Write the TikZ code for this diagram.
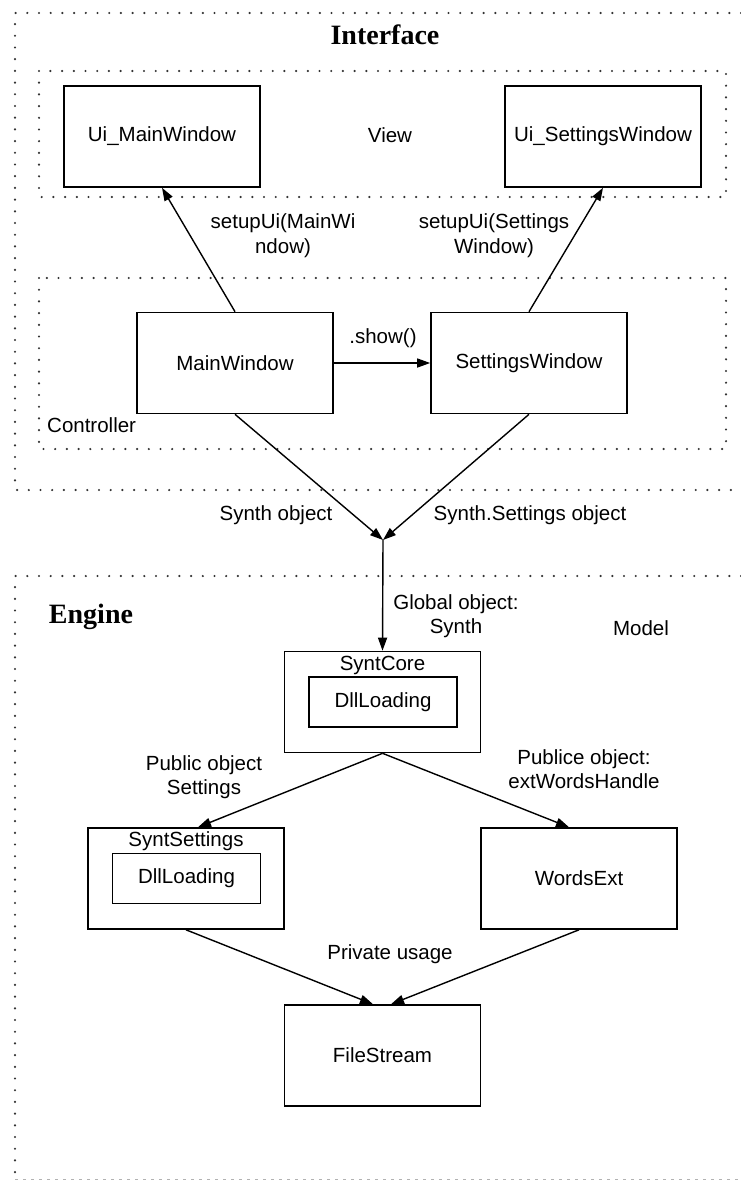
\documentclass[tikz,border=0pt]{standalone}
\usepackage{fontspec}
\setmainfont{Liberation Sans}
\newfontfamily\titlefont{Liberation Serif}
\usetikzlibrary{arrows.meta,calc}
\begin{document}
\begin{tikzpicture}[x=1pt,y=-1pt,
  font=\fontsize{20.5}{24.5}\selectfont,
  box/.style={draw, line width=1.6pt, minimum width=196pt, minimum height=101pt, inner sep=0pt},
  inbox/.style={draw, line width=1.6pt, minimum width=148pt, minimum height=50pt, inner sep=0pt},
  dotline/.style={line width=2.4pt, black!80, line cap=round, dash pattern=on 0pt off 11.7pt},
  conn/.style={line width=1.4pt, -{Triangle[length=13pt,width=9pt]}},
  lbl/.style={inner sep=0pt, align=center},
  ttl/.style={inner sep=0pt, font=\titlefont\bfseries\fontsize{28}{32}\selectfont}
]
\useasboundingbox (0,0) rectangle (741,1180);

% regions
\draw[dotline] (741,13) -- (15,13) -- (15,490) -- (741,490);
\draw[dotline] (39,71) rectangle (726,197);
\draw[dotline] (39,278) rectangle (726,449);
\draw[dotline] (741,576) -- (15,576) -- (15,1179);
\draw[gray!60, line width=1pt, dash pattern=on 3pt off 5pt] (15,1179) -- (741,1179);

\node[ttl] (tint) at (385,35) {Interface};
\node[ttl] (teng) at (91,617) {Engine};
\node[lbl] (tview) at (390,135) {View};
\node[lbl, anchor=west] (tctrl) at (47,425) {Controller};
\node[lbl] (tmodel) at (641,628) {Model};

% boxes
\node[box] (uimw) at (162,136.5) {Ui\_MainWindow};
\node[box] (uisw) at (603,136.5) {Ui\_SettingsWindow};
\node[box] (mw) at (235,363) {MainWindow};
\node[box] (sw) at (529,363) {SettingsWindow};
\node[box] (sc) at (382.5,702) {};
\node[inbox] (scd) at (383,702) {DllLoading};
\node[lbl, anchor=north] (sclbl) at ($(sc.north)+(0,5)$) {SyntCore};
\node[box] (ss) at (186,878.5) {};
\node[inbox] (ssd) at (186.5,878.5) {DllLoading};
\node[lbl, anchor=north] (sslbl) at ($(ss.north)+(0,4.5)$) {SyntSettings};
\node[box] (we) at (579,878.5) {WordsExt};
\node[box] (fs) at (382.5,1055.5) {FileStream};

\coordinate (j) at (383,540);

% connectors
\draw[conn] (mw.north) -- (uimw.south);
\draw[conn] (sw.north) -- (uisw.south);
\draw[conn] (mw.east) -- (sw.west);
\draw[conn] (mw.south) -- (j);
\draw[conn] (sw.south) -- (j);
\draw[conn] (j) -- (sc.north);
\draw[conn] (sc.south) -- ($(ss.north)+(12,0)$);
\draw[conn] (sc.south) -- ($(we.north)+(-10,0)$);
\draw[conn] (ss.south) -- ($(fs.north)+(-9.5,0)$);
\draw[conn] (we.south) -- ($(fs.north)+(8.5,0)$);

% labels
\node[lbl] (l1) at (283,235.5) {setupUi(MainWi\\ndow)};
\node[lbl] (l2) at (494,235.5) {setupUi(Settings\\Window)};
\node[lbl] (l3) at (383,338) {.show()};
\node[lbl] (l4) at (276,515) {Synth object};
\node[lbl] (l5) at (530,515) {Synth.Settings object};
\node[lbl] (l6) at (456,616) {Global object:\\Synth};
\node[lbl] (l7) at (204,777) {Public object\\Settings};
\node[lbl] (l8) at (584,769) {Publice object:\\extWordsHandle};
\node[lbl] (l9) at (390,954) {Private usage};
\end{tikzpicture}
\end{document}
